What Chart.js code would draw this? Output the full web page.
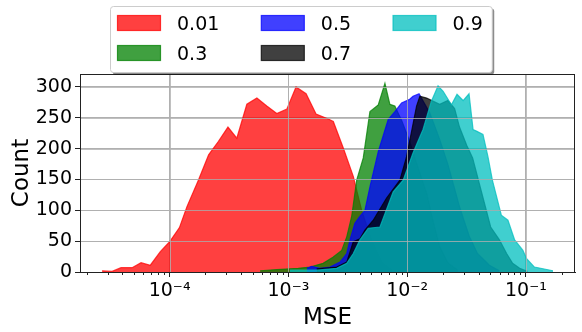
<!DOCTYPE html>
<html>
<head>
<meta charset="utf-8">
<script src="https://cdn.jsdelivr.net/npm/chart.js@4.4.1/dist/chart.umd.min.js"></script>
<style>
  html, body { margin: 0; padding: 0; background: #fff; }
  canvas { display: block; }
</style>
</head>
<body>
<canvas id="c" width="582" height="332"></canvas>
<script>
const seriesNames = ['0.01', '0.3', '0.5', '0.7', '0.9'];
const seriesColors = ['255,0,0', '0,128,0', '0,0,255', '0,0,0', '0,191,191'];

// histogram bin centres (MSE) and counts
const mse001 = [2.70e-5, 3.28e-5, 3.90e-5, 4.83e-5, 5.75e-5, 6.88e-5, 8.35e-5, 1.00e-4, 1.21e-4, 1.40e-4,
  1.75e-4, 2.13e-4, 2.58e-4, 3.10e-4, 3.68e-4, 4.47e-4, 5.43e-4, 6.58e-4, 7.99e-4, 9.70e-4,
  1.16e-3, 1.41e-3, 1.71e-3, 2.17e-3, 2.39e-3, 2.90e-3, 3.52e-3, 4.14e-3, 5.05e-3, 6.13e-3, 7.43e-3];
const count001 = [2, 1, 7, 7, 15, 11, 33, 49, 72, 106,
  149, 190, 212, 235, 217, 272, 282, 269, 257, 264,
  300, 289, 256, 248, 244, 201, 155, 100, 50, 15, 3];

const mse03 = [5.78e-4, 7.99e-4, 1.21e-3, 1.52e-3, 1.96e-3, 2.37e-3, 2.81e-3, 3.10e-3, 3.41e-3, 3.76e-3,
  4.27e-3, 4.86e-3, 5.71e-3, 6.50e-3, 7.15e-3, 7.88e-3, 9.03e-3, 1.05e-2, 1.23e-2, 1.46e-2,
  1.64e-2, 1.88e-2, 2.20e-2, 2.67e-2];
const count03 = [2, 4, 6, 8, 14, 24, 35, 57, 90, 149,
  185, 260, 271, 306, 272, 269, 245, 212, 170, 128,
  85, 41, 15, 3];

const mse05 = [1.43e-3, 1.57e-3, 1.85e-3, 2.24e-3, 2.72e-3, 3.10e-3, 3.30e-3, 3.63e-3, 4.00e-3, 4.41e-3,
  4.86e-3, 5.71e-3, 6.92e-3, 7.88e-3, 8.97e-3, 1.05e-2, 1.12e-2, 1.26e-2, 1.55e-2, 1.88e-2,
  2.20e-2, 2.51e-2, 2.76e-2, 3.35e-2, 3.91e-2, 4.93e-2, 5.99e-2];
const count05 = [6, 9, 6, 8, 16, 30, 52, 79, 90, 100,
  138, 195, 247, 260, 274, 280, 285, 289, 258, 215,
  175, 135, 106, 57, 30, 11, 2];

const mse07 = [1.73e-3, 2.55e-3, 3.10e-3, 3.52e-3, 4.00e-3, 4.41e-3, 5.18e-3, 6.71e-3, 8.69e-3, 9.89e-3,
  1.20e-2, 1.28e-2, 1.46e-2, 1.65e-2, 1.88e-2, 2.20e-2, 2.51e-2, 2.76e-2, 3.18e-2, 3.56e-2,
  4.16e-2, 5.05e-2, 5.99e-2, 6.88e-2, 7.73e-2, 8.86e-2, 1.03e-1];
const count07 = [5, 8, 16, 49, 54, 68, 84, 120, 149, 187,
  269, 285, 282, 277, 272, 278, 265, 235, 205, 185,
  135, 73, 52, 30, 14, 6, 1];

const mse09 = [1.03e-3, 1.73e-3, 2.55e-3, 3.10e-3, 3.52e-3, 4.00e-3, 4.70e-3, 5.90e-3, 7.63e-3, 9.26e-3,
  1.12e-2, 1.36e-2, 1.60e-2, 1.82e-2, 2.01e-2, 2.36e-2, 2.63e-2, 2.96e-2, 3.32e-2, 3.59e-2,
  3.87e-2, 4.35e-2, 4.79e-2, 5.22e-2, 6.21e-2, 7.06e-2, 8.04e-2, 9.44e-2, 1.01e-1, 1.18e-1, 1.69e-1];
const count09 = [3, 3, 6, 14, 30, 52, 71, 73, 130, 149,
  193, 231, 277, 302, 293, 271, 288, 278, 289, 231,
  228, 223, 187, 149, 92, 84, 52, 35, 22, 8, 2];

const mseLists = [mse001, mse03, mse05, mse07, mse09];
const countLists = [count001, count03, count05, count07, count09];

const xMin = 1.76e-5, xMax = 0.259;
const yMax = 321;

const FONT = '"DejaVu Sans", sans-serif';
const SUP = {'-': '\u207B', '0': '\u2070', '1': '\u00B9', '2': '\u00B2', '3': '\u00B3',
  '4': '\u2074', '5': '\u2075', '6': '\u2076', '7': '\u2077', '8': '\u2078', '9': '\u2079'};
const sup = s => String(s).split('').map(c => SUP[c]).join('');

const datasets = seriesNames.map((name, i) => ({
  label: name,
  data: mseLists[i].map((m, j) => ({x: m, y: countLists[i][j]})),
  backgroundColor: 'rgba(' + seriesColors[i] + ',0.75)',
  borderColor: 'rgba(' + seriesColors[i] + ',0.75)',
  borderWidth: 1.2,
  pointRadius: 0,
  tension: 0,
  fill: 'origin',
  order: seriesNames.length - i   // later series drawn on top
}));

// grid over the fills, frame on top/right, short minor ticks on the x axis
const frame = {
  id: 'frame',
  afterDatasetsDraw(chart) {
    const {ctx, chartArea: a} = chart;
    const xs = chart.scales.x, ys = chart.scales.y;
    ctx.save();
    ctx.strokeStyle = 'rgba(176,176,176,0.8)';
    ctx.lineWidth = 1;
    ctx.beginPath();
    xs.ticks.forEach(t => {
      if (!t.major) return;
      const px = Math.round(xs.getPixelForValue(t.value)) + 0.5;
      ctx.moveTo(px, a.top);
      ctx.lineTo(px, a.bottom);
    });
    ys.ticks.forEach(t => {
      const py = Math.round(ys.getPixelForValue(t.value)) + 0.5;
      ctx.moveTo(a.left, py);
      ctx.lineTo(a.right, py);
    });
    ctx.stroke();

    ctx.strokeStyle = '#222';
    ctx.strokeRect(Math.round(a.left) + 0.5, Math.round(a.top) + 0.5,
      Math.round(a.right - a.left) - 1, Math.round(a.bottom - a.top));
    ctx.beginPath();
    xs.ticks.forEach(t => {
      if (t.major) return;
      const px = Math.round(xs.getPixelForValue(t.value)) + 0.5;
      ctx.moveTo(px, a.bottom);
      ctx.lineTo(px, a.bottom + 3);
    });
    ctx.stroke();
    ctx.restore();
  }
};

// matplotlib style legend: 3 columns, filled column by column
const legendBox = {
  id: 'legendBox',
  afterDraw(chart) {
    const ctx = chart.ctx;
    const ds = chart.data.datasets;
    const nrow = 2;
    const left = 110, top = 6, h = 66;
    const hw = 43, hh = 15, gap = 16.5, colSpace = 42, padL = 7.5, padR = 9;
    const rowMid = [23, 53];
    ctx.save();
    ctx.font = '19px ' + FONT;
    const cols = [];
    for (let i = 0; i < ds.length; i += nrow) cols.push(ds.slice(i, i + nrow));
    const widths = cols.map(c => Math.max(...c.map(d => ctx.measureText(d.label).width)));
    let w = padL + padR;
    widths.forEach((cw, i) => { w += hw + gap + cw + (i < cols.length - 1 ? colSpace : 0); });

    const box = (x, y, bw, bh, r) => {
      ctx.beginPath();
      ctx.roundRect(x, y, bw, bh, r);
    };
    box(left + 2.5, top + 2.5, w, h, 3);
    ctx.fillStyle = 'rgba(0,0,0,0.45)';
    ctx.fill();
    box(left + 0.5, top + 0.5, w, h, 3);
    ctx.fillStyle = '#fff';
    ctx.fill();
    ctx.strokeStyle = '#cccccc';
    ctx.lineWidth = 1;
    ctx.stroke();

    let x = left + padL;
    cols.forEach((c, ci) => {
      c.forEach((d, ri) => {
        const cy = rowMid[ri];
        ctx.fillStyle = d.backgroundColor;
        ctx.fillRect(x, cy - hh / 2, hw, hh);
        ctx.strokeStyle = d.borderColor;
        ctx.lineWidth = 1.2;
        ctx.strokeRect(x, cy - hh / 2, hw, hh);
        ctx.fillStyle = '#000';
        ctx.textBaseline = 'alphabetic';
        ctx.textAlign = 'left';
        ctx.fillText(d.label, x + hw + gap, cy + 7);
      });
      x += hw + gap + widths[ci] + colSpace;
    });
    ctx.restore();
  }
};

new Chart(document.getElementById('c'), {
  type: 'line',
  data: { datasets },
  plugins: [frame, legendBox],
  options: {
    responsive: false,
    animation: false,
    devicePixelRatio: 1,
    layout: { padding: { top: 74, right: 7, left: 0, bottom: 0 } },
    plugins: { legend: { display: false }, tooltip: { enabled: false } },
    scales: {
      x: {
        type: 'logarithmic',
        min: xMin,
        max: xMax,
        afterFit: s => { s.height = 60; },
        afterBuildTicks: s => {
          const ticks = [];
          for (let e = -6; e <= 1; e++) {
            for (let k = 1; k <= 9; k++) {
              const v = k * Math.pow(10, e);
              if (v >= s.min && v <= s.max) ticks.push({ value: v, major: k === 1 });
            }
          }
          s.ticks = ticks;
        },
        ticks: {
          autoSkip: false,
          maxRotation: 0,
          padding: 3,
          color: '#000',
          font: { family: FONT, size: 19 },
          callback: (v, i, ticks) => ticks[i].major ? '10' + sup(Math.round(Math.log10(v))) : ''
        },
        grid: {
          color: c => (c.tick && c.tick.major) ? '#b0b0b0' : 'rgba(0,0,0,0)',
          tickColor: c => (c.tick && c.tick.major) ? '#222' : 'rgba(0,0,0,0)',
          tickLength: 5,
          lineWidth: 1
        },
        border: { color: '#222', width: 1 },
        title: {
          display: true,
          text: 'MSE',
          color: '#000',
          font: { family: FONT, size: 23 },
          padding: { top: 0, bottom: 0 }
        }
      },
      y: {
        type: 'linear',
        min: 0,
        max: yMax,
        afterFit: s => { s.width = 80; },
        ticks: {
          stepSize: 50,
          includeBounds: false,
          padding: 3,
          color: '#000',
          font: { family: FONT, size: 19 }
        },
        grid: { color: '#b0b0b0', tickColor: '#222', tickLength: 5, lineWidth: 1 },
        border: { color: '#222', width: 1 },
        title: {
          display: true,
          text: 'Count',
          color: '#000',
          font: { family: FONT, size: 23 },
          padding: { top: 8, bottom: 0 }
        }
      }
    }
  }
});
</script>
</body>
</html>
